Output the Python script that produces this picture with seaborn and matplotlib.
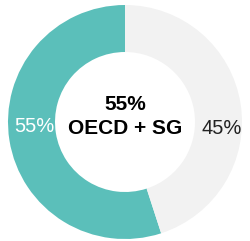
import matplotlib
matplotlib.use("Agg")
import matplotlib.pyplot as plt
import seaborn as sns

sns.set_theme(style="white")
plt.rcParams['font.family'] = ['Liberation Sans', 'DejaVu Sans']

labels = ["OECD + SG", "Other"]
values = [55, 45]
colors = ["#5bbfba", "#f2f2f2"]
center_title = "OECD + SG"

fig = plt.figure(figsize=(2.5, 2.41), dpi=100)
ax = fig.add_axes([0, 0, 1, 1])
ax.pie(values, colors=colors, startangle=90, counterclock=True,
       radius=117, center=(0, 0), frame=False,
       wedgeprops=dict(width=47, linewidth=0))
ax.set_xlim(-125, 125)
ax.set_ylim(-119, 122)
ax.set_aspect('equal')
ax.axis('off')

ax.text(-90.5, -4, f"{values[0]}%", color="white", fontsize=14.5,
        ha="center", va="center")
ax.text(97, -7, f"{values[1]}%", color="#222222", fontsize=14.5,
        ha="center", va="center")
ax.text(0, 18, f"{values[0]}%", color="black", fontsize=15,
        fontweight="bold", ha="center", va="center")
ax.text(0, -7, center_title, color="black", fontsize=15,
        fontweight="bold", ha="center", va="center")

fig.savefig("out.png", dpi=100)
